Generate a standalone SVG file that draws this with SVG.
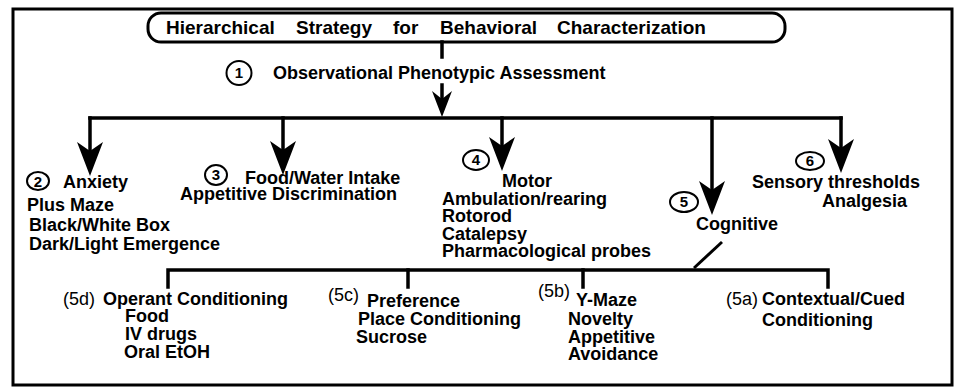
<svg xmlns="http://www.w3.org/2000/svg" width="955" height="388" viewBox="0 0 955 388">
<style>
.t{font-family:"Liberation Sans",Arial,sans-serif;font-weight:bold;font-size:18px;fill:#000}
.r{font-family:"Liberation Sans",Arial,sans-serif;font-size:18px;fill:#000}
.n{font-family:"Liberation Sans",Arial,sans-serif;font-weight:bold;font-size:15px;fill:#000;text-anchor:middle}
.ln{stroke:#000;stroke-width:3.5;fill:none;stroke-linecap:square}
.c{stroke:#000;stroke-width:2;fill:#fff}
</style>
<defs>
<path id="ah" d="M0,0 L-13,-34 L0,-25 L13,-34 Z" fill="#000"/>
<path id="ahs" d="M0,0 L-10,-26 L0,-18 L10,-26 Z" fill="#000"/>
</defs>
<rect x="13" y="9" width="939" height="376" fill="#fff" stroke="#000" stroke-width="3"/>
<g id="title">
<rect x="148" y="13" width="637" height="29" rx="13" fill="#fff" stroke="#000" stroke-width="3"/>
<text class="t" style="font-size:19px" y="34"><tspan x="166">Hierarchical</tspan><tspan x="296">Strategy</tspan><tspan x="393">for</tspan><tspan x="440">Behavioral</tspan><tspan x="557">Characterization</tspan></text>
</g>
<g id="connectors">
<path class="ln" d="M442,42 V57"/>
<path class="ln" d="M442,85 V110"/>
<use href="#ahs" x="442" y="117"/>
<path class="ln" d="M90,118 H841"/>
<path class="ln" d="M90,118 V160"/>
<use href="#ah" x="90" y="176"/>
<path class="ln" d="M283,118 V160"/>
<use href="#ah" x="283" y="175"/>
<path class="ln" d="M502,118 V155"/>
<use href="#ah" x="502" y="171"/>
<path class="ln" d="M712,118 V200"/>
<use href="#ah" x="712" y="215"/>
<path class="ln" d="M841,118 V158"/>
<use href="#ah" x="841" y="173"/>
<path class="ln" d="M722,242 L694,268" style="stroke-width:3;stroke-linecap:butt"/>
<path class="ln" d="M168,287 V270 H828 V287"/>
<path class="ln" d="M408,270 V287"/>
<path class="ln" d="M583,270 V287"/>
</g>
<g id="node1">
<ellipse class="c" cx="239" cy="73" rx="12.5" ry="12"/>
<text class="n" x="239" y="78">1</text>
<text class="t" x="273" y="79">Observational Phenotypic Assessment</text>
</g>
<g id="node2">
<ellipse class="c" cx="38" cy="181" rx="11" ry="9"/>
<text class="n" x="38" y="187">2</text>
<text class="t" x="63" y="188">Anxiety</text>
<text class="t" x="27" y="211">Plus Maze</text>
<text class="t" x="29" y="231">Black/White Box</text>
<text class="t" x="29" y="250">Dark/Light Emergence</text>
</g>
<g id="node3">
<ellipse class="c" cx="216" cy="175" rx="11" ry="10"/>
<text class="n" x="216" y="180">3</text>
<text class="t" x="245" y="184">Food/Water Intake</text>
<text class="t" x="180" y="200">Appetitive Discrimination</text>
</g>
<g id="node4">
<ellipse class="c" cx="476" cy="160" rx="13" ry="10"/>
<text class="n" x="476" y="165">4</text>
<text class="t" x="502" y="187">Motor</text>
<text class="t" x="442" y="205">Ambulation/rearing</text>
<text class="t" x="442" y="222">Rotorod</text>
<text class="t" x="442" y="240">Catalepsy</text>
<text class="t" x="442" y="257">Pharmacological probes</text>
</g>
<g id="node5">
<ellipse class="c" cx="684" cy="202" rx="14" ry="10"/>
<text class="n" x="684" y="207">5</text>
<text class="t" x="696" y="230">Cognitive</text>
</g>
<g id="node6">
<ellipse class="c" cx="810" cy="161" rx="14" ry="9"/>
<text class="n" x="810" y="166">6</text>
<text class="t" x="752" y="188">Sensory thresholds</text>
<text class="t" x="822" y="207">Analgesia</text>
</g>
<g id="node5d">
<text class="r" x="63" y="305">(5d)</text>
<text class="t" x="103" y="305">Operant Conditioning</text>
<text class="t" x="125" y="322">Food</text>
<text class="t" x="125" y="340">IV drugs</text>
<text class="t" x="124" y="358">Oral EtOH</text>
</g>
<g id="node5c">
<text class="r" x="328" y="301">(5c)</text>
<text class="t" x="367" y="307">Preference</text>
<text class="t" x="358" y="325">Place Conditioning</text>
<text class="t" x="356" y="343">Sucrose</text>
</g>
<g id="node5b">
<text class="r" x="538" y="297">(5b)</text>
<text class="t" x="576" y="306">Y-Maze</text>
<text class="t" x="568" y="325">Novelty</text>
<text class="t" x="568" y="343">Appetitive</text>
<text class="t" x="568" y="360">Avoidance</text>
</g>
<g id="node5a">
<text class="r" x="726" y="305">(5a)</text>
<text class="t" x="762" y="305">Contextual/Cued</text>
<text class="t" x="762" y="326">Conditioning</text>
</g>
</svg>
